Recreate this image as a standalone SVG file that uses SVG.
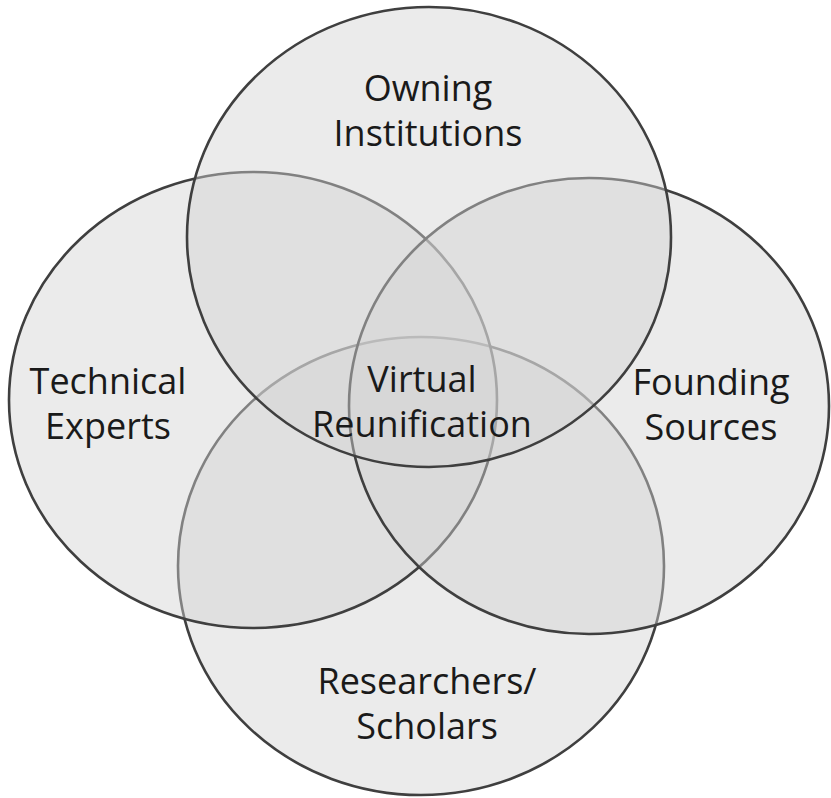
<svg xmlns="http://www.w3.org/2000/svg" width="831" height="798" viewBox="0 0 831 798">
<style>
.c{fill:rgba(210,210,210,0.45);stroke:#3f3f3f;stroke-width:2.6}
.t{font-family:"Open Sans","Noto Sans","Liberation Sans",sans-serif;font-size:36px;fill:#1a1a1a;text-anchor:middle}
</style>
<rect width="831" height="798" fill="#ffffff"/>
<g id="researchers"><ellipse class="c" cx="421" cy="566" rx="243" ry="229"/></g>
<g id="technical"><ellipse class="c" cx="253" cy="400" rx="244" ry="228"/></g>
<g id="founding"><ellipse class="c" cx="589" cy="406" rx="240" ry="228"/></g>
<g id="owning"><ellipse class="c" cx="429" cy="237" rx="242" ry="230"/></g>
<g id="labels">
<text class="t" x="428" y="101">Owning<tspan x="428" dy="45">Institutions</tspan></text>
<text class="t" x="108" y="393.5">Technical<tspan x="108" dy="45">Experts</tspan></text>
<text class="t" x="711" y="394.5">Founding<tspan x="711" dy="45">Sources</tspan></text>
<text class="t" x="422" y="391.5">Virtual<tspan x="422" dy="45">Reunification</tspan></text>
<text class="t" x="427" y="694">Researchers/<tspan x="427" dy="45">Scholars</tspan></text>
</g>
</svg>
